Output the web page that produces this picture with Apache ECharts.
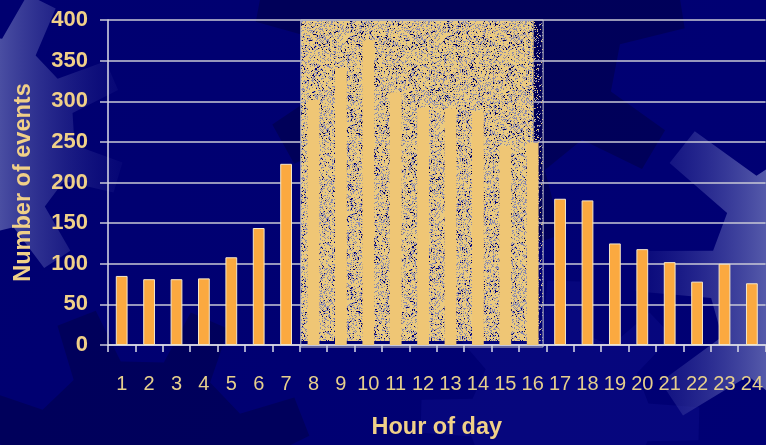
<!DOCTYPE html>
<html>
<head>
<meta charset="utf-8">
<script src="https://cdn.jsdelivr.net/npm/echarts@6/dist/echarts.min.js"></script>
<style>
  html, body { margin: 0; padding: 0; background: #000078; }
  #chart { width: 766px; height: 445px; }
</style>
</head>
<body>
<div id="chart"></div>
<script>
// Hourly event counts
const hours = ['1','2','3','4','5','6','7','8','9','10','11','12','13','14','15','16','17','18','19','20','21','22','23','24'];
const events = [85, 81, 81, 82, 108, 144, 223, 302, 341, 375, 311, 292, 291, 287, 245, 249, 180, 178, 125, 118, 102, 78, 100, 76];
// Working-hours band (first and last hour covered)
const busyHours = ['8', '16'];
const yTicks = { min: 0, max: 400, step: 50 };

const TAN = '#f0d088';

// Deterministic hash used for the dithered texture of the band
function hash2(x, y, s) {
  let h = Math.imul(x, 374761393) + Math.imul(y, 668265263) + Math.imul(s, 2246822519);
  h = Math.imul(h ^ (h >>> 13), 1274126177);
  h = h ^ (h >>> 16);
  return (h >>> 0) / 4294967296;
}
function ditherPattern(w, h, cover, grey, seed) {
  const c = document.createElement('canvas');
  c.width = w; c.height = h;
  const ctx = c.getContext('2d');
  const img = ctx.createImageData(w, h);
  for (let y = 0; y < h; y++) {
    for (let x = 0; x < w; x++) {
      const p = hash2(x, y, seed);
      const q = hash2(x >> 1, y >> 1, seed + 7);
      const i = (y * w + x) * 4;
      const v = 0.8 * p + 0.2 * q;
      if (v < cover) {
        img.data[i] = 234; img.data[i + 1] = 202; img.data[i + 2] = 128; img.data[i + 3] = 255;
      } else if (v < cover + grey) {
        img.data[i] = 140; img.data[i + 1] = 138; img.data[i + 2] = 172; img.data[i + 3] = 255;
      } else {
        img.data[i + 3] = 0;
      }
    }
  }
  ctx.putImageData(img, 0, 0);
  return c;
}
const bandFill = { image: ditherPattern(97, 89, 0.66, 0.2, 3), repeat: 'repeat' };
const edgeFill = { image: ditherPattern(53, 61, 0.14, 0.1, 11), repeat: 'repeat' };

// Gear outline for the decorative backdrop
function gear(cx, cy, rIn, rOut, teeth, phase) {
  const pts = [];
  const step = Math.PI * 2 / teeth;
  for (let i = 0; i < teeth; i++) {
    const a = phase + i * step;
    const f = [[rIn, 0], [rOut, 0.12], [rOut, 0.42], [rIn, 0.54]];
    f.forEach(([r, t]) => pts.push([cx + r * Math.cos(a + t * step), cy + r * Math.sin(a + t * step)]));
  }
  return pts;
}
function lin(x0, y0, x1, y1, c0, c1) {
  return { type: 'linear', x: x0, y: y0, x2: x1, y2: y1, global: true,
    colorStops: [{ offset: 0, color: c0 }, { offset: 1, color: c1 }] };
}

const backdrop = [
  { type: 'rect', z: -100, shape: { x: 0, y: 0, width: 766, height: 445 },
    style: { fill: lin(0, 0, 766, 445, '#000070', '#000074') } },
  // dark gear, upper centre
  { type: 'polygon', z: -99, shape: { points: gear(470, 40, 150, 215, 9, 0.35) },
    style: { fill: 'rgba(0,0,60,0.45)' } },
  // dark gear, lower left
  { type: 'polygon', z: -99, shape: { points: gear(140, 480, 120, 175, 8, 0.2) },
    style: { fill: 'rgba(0,0,70,0.5)' } },
  // lighter gear, lower middle
  { type: 'polygon', z: -99, shape: { points: gear(560, 420, 90, 140, 8, 0.6) },
    style: { fill: 'rgba(20,20,150,0.3)' } },
  // light gear, left edge
  { type: 'polygon', z: -98, shape: { points: gear(-25, 135, 100, 150, 9, 0.1) },
    style: { fill: lin(0, 0, 140, 0, 'rgba(74,78,162,1)', 'rgba(20,20,130,0.1)') } },
  // light gear, right edge
  { type: 'polygon', z: -98, shape: { points: gear(850, 280, 140, 215, 10, 0.5) },
    style: { fill: lin(620, 0, 766, 0, 'rgba(40,40,150,0.05)', 'rgba(85,90,170,1)') } }
];

// Bars inside the working-hours band are drawn in a paler tone
const i0 = hours.indexOf(busyHours[0]);
const i1 = hours.indexOf(busyHours[1]);
const barData = events.map((v, i) => {
  const inBand = i >= i0 && i <= i1;
  return {
    value: v,
    itemStyle: inBand
      ? { color: '#efc675', borderWidth: 0 }
      : { color: '#fba940', borderColor: '#f4e6c8', borderWidth: 1 }
  };
});

const chart = echarts.init(document.getElementById('chart'), null, { renderer: 'canvas' });

chart.setOption({
  backgroundColor: 'transparent',
  animation: false,
  graphic: { elements: backdrop },
  grid: { left: 108, right: 0, top: 20, bottom: 98 },
  xAxis: {
    type: 'category',
    data: hours,
    boundaryGap: true,
    name: 'Hour of day',
    nameLocation: 'middle',
    nameGap: 71,
    nameTextStyle: { color: TAN, fontFamily: 'Liberation Sans', fontWeight: 'bold', fontSize: 23.5 },
    axisLine: { lineStyle: { color: '#dcdce6', width: 1.5 } },
    axisTick: { show: true, length: 7, alignWithLabel: false, lineStyle: { color: '#dcdce6', width: 1.5 } },
    axisLabel: { interval: 0, margin: 29, color: '#e6cf8c', fontFamily: 'Liberation Sans', fontSize: 20 },
    splitLine: { show: false }
  },
  yAxis: {
    type: 'value',
    min: yTicks.min, max: yTicks.max, interval: yTicks.step,
    name: 'Number of events',
    nameLocation: 'middle',
    nameGap: 72,
    nameTextStyle: { color: TAN, fontFamily: 'Liberation Sans', fontWeight: 'bold', fontSize: 23.5 },
    axisLine: { show: true, lineStyle: { color: '#dcdce6', width: 1.5 } },
    axisTick: { show: true, length: 8, lineStyle: { color: '#c8c8d6', width: 1.5 } },
    axisLabel: { margin: 20, color: TAN, fontFamily: 'Liberation Sans', fontWeight: 'bold', fontSize: 22 },
    splitLine: { show: true, lineStyle: { color: '#c8c8d6', width: 1.5 } }
  },
  series: [
    {
      type: 'bar',
      data: barData,
      barWidth: '43%',
      z: 3
    },
    {
      // dithered highlight behind the working-hours bars
      type: 'custom',
      z: 2,
      silent: true,
      data: [busyHours],
      encode: { x: [0, 1] },
      renderItem: function (params, api) {
        const band = api.size([1, 0])[0];
        const a = api.coord([api.value(0), yTicks.max]);
        const b = api.coord([api.value(1), yTicks.min]);
        const fillBottom = api.coord([api.value(1), 5])[1];
        const x0 = a[0] - band / 2 + 1;
        const xEdge = b[0] + 1;
        const x1 = b[0] + band * 0.38;
        const y0 = a[1] + 1;
        return {
          type: 'group',
          children: [
            { type: 'rect', shape: { x: x0, y: y0, width: xEdge - x0, height: fillBottom - y0 },
              style: { fill: bandFill } },
            { type: 'rect', shape: { x: xEdge, y: y0, width: x1 - xEdge, height: fillBottom - y0 },
              style: { fill: edgeFill } },
            { type: 'rect', shape: { x: x0, y: a[1], width: x1 - x0, height: b[1] - a[1] + 2 },
              style: { fill: 'none', stroke: '#c4c4cc', lineWidth: 1 } }
          ]
        };
      }
    }
  ]
});
</script>
</body>
</html>
